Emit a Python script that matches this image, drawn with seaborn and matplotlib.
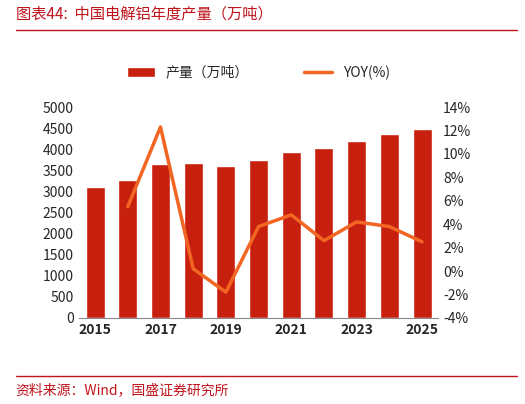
import numpy as np
import pandas as pd
import matplotlib.pyplot as plt
import seaborn as sns

years = [2015, 2016, 2017, 2018, 2019, 2020, 2021, 2022, 2023, 2024, 2025]
output = [3100, 3260, 3660, 3670, 3610, 3740, 3930, 4020, 4200, 4360, 4470]
yoy = [np.nan, 5.5, 12.3, 0.2, -1.8, 3.8, 4.8, 2.6, 4.2, 3.8, 2.5]

sns.set_style("white")
plt.rcParams['font.family'] = ['Noto Sans CJK SC', 'DejaVu Sans']

df = pd.DataFrame({"year": years, "output": output, "yoy": yoy})
df["pos"] = np.arange(len(years))

fig = plt.figure(figsize=(5.25, 4.04), dpi=100)
ax = fig.add_axes([0.15, 0.213, 0.685, 0.522])
sns.barplot(data=df, x="pos", y="output", color="#C8200E", width=0.58,
            saturation=1, ax=ax, label="产量（万吨）")
ax2 = ax.twinx()
sns.lineplot(data=df, x="pos", y="yoy", color="#F26522", lw=2.5, ax=ax2,
             label="YOY(%)", legend=False)

ax.set_ylim(0, 5000)
ax.set_yticks(range(0, 5001, 500))
ax2.set_ylim(-4, 14)
ax2.set_yticks(range(-4, 15, 2))
ax2.set_yticklabels([f"{v}%" for v in range(-4, 15, 2)])
ax.set_xlim(-0.5, len(years) - 0.5)
ax.set_xticks(df["pos"][::2])
ax.set_xticklabels([str(y) for y in years[::2]], fontweight="bold")
ax.set_xlabel("")
ax.set_ylabel("")
ax2.set_ylabel("")
for a in (ax, ax2):
    for s in a.spines.values():
        s.set_visible(False)
    a.tick_params(length=0, labelsize=10)
ax.spines["bottom"].set_visible(True)
ax.spines["bottom"].set_color("#888888")

h1, l1 = ax.get_legend_handles_labels()
h2, l2 = ax2.get_legend_handles_labels()
ax.legend(h1 + h2, l1 + l2, loc="lower center", bbox_to_anchor=(0.5, 1.07),
          ncol=2, frameon=False, fontsize=10, columnspacing=4)

fig.text(0.03, 0.955, "图表44:  中国电解铝年度产量（万吨）", color="#C0141C",
         fontsize=11, style="italic")
fig.add_artist(plt.Line2D([0.03, 0.985], [0.925, 0.925], color="#C0141C", lw=1))
fig.add_artist(plt.Line2D([0.03, 0.985], [0.07, 0.07], color="#C0141C", lw=1))
fig.text(0.03, 0.025, "资料来源：Wind，国盛证券研究所", color="#C0141C",
         fontsize=10, style="italic")

plt.savefig("out.png")
